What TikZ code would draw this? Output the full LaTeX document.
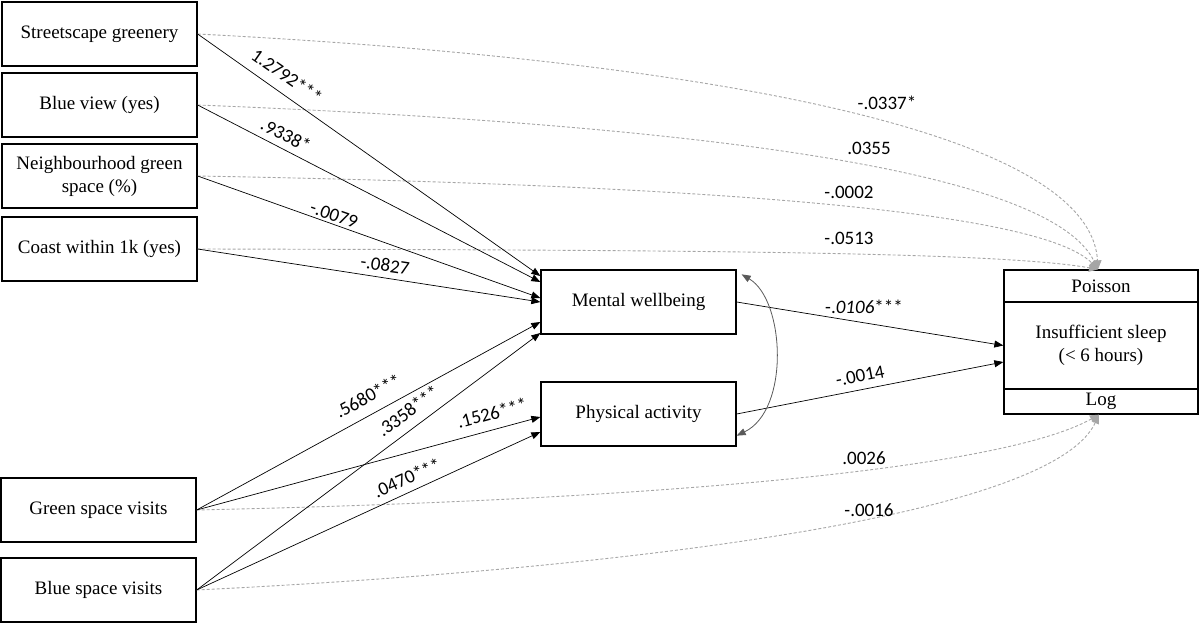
\documentclass[tikz,border=0pt]{standalone}
\usepackage{fontspec}
\setmainfont{Liberation Serif}
\newfontfamily\coeffont{Carlito}
\usetikzlibrary{arrows.meta}

\newlength{\du}
\setlength{\du}{1pt}
\definecolor{dialinecolor}{rgb}{0.000000, 0.000000, 0.000000}
\definecolor{dashcolor}{rgb}{0.650000, 0.650000, 0.650000}
\definecolor{covcolor}{rgb}{0.350000, 0.350000, 0.350000}

\tikzset{
  varbox/.style={draw=dialinecolor, line width=1.3\du, minimum width=195\du,
    minimum height=64\du, inner sep=0pt, align=center,
    font=\fontsize{19}{23}\selectfont},
  pathline/.style={draw=dialinecolor, line width=0.7\du,
    -{Triangle[length=9pt,width=7pt]}},
  directline/.style={draw=dashcolor, line width=0.9\du, dash pattern=on 3pt off 2pt,
    -{Triangle[length=9pt,width=8pt,fill=dashcolor]}},
  coef/.style={inner sep=1\du, font=\coeffont\fontsize{19}{22}\selectfont}
}

\begin{document}
\begin{tikzpicture}[x=1\du,y=-1\du]
\useasboundingbox (0,0) rectangle (1200,624);

% exposures
\node[varbox] (street) at (99.5,34) {Streetscape greenery};
\node[varbox] (blueview) at (99.5,105) {Blue view (yes)};
\node[varbox] (neighbour) at (99.5,176) {Neighbourhood green\\space (\%)};
\node[varbox] (coast) at (99.5,249) {Coast within 1k (yes)};
\node[varbox] (greenvisit) at (98.5,510) {Green space visits};
\node[varbox] (bluevisit) at (98.5,590) {Blue space visits};

% mediators
\node[varbox] (mental) at (638.5,302) {Mental wellbeing};
\node[varbox] (physical) at (638.5,414) {Physical activity};

% outcome
\node[varbox, minimum width=194\du, minimum height=32\du] (poisson) at (1101,286) {Poisson};
\node[varbox, minimum width=194\du, minimum height=87\du] (sleep) at (1101,345.5) {Insufficient sleep\\(< 6 hours)};
\node[varbox, minimum width=194\du, minimum height=25\du] (log) at (1101,401.5) {Log};

% direct effects
\draw[directline] (street.east) .. controls (700,60) and (1090,130) .. ([xshift=-3\du]poisson.north);
\draw[directline] (blueview.east) .. controls (700,125) and (1050,170) .. ([xshift=-3\du]poisson.north);
\draw[directline] (neighbour.east) .. controls (700,185) and (1040,210) .. ([xshift=-3\du]poisson.north);
\draw[directline] (coast.east) .. controls (700,250) and (1000,252) .. ([xshift=-3\du]poisson.north);
\draw[directline] (greenvisit.east) .. controls (650,500) and (1000,470) .. ([xshift=-2\du]log.south);
\draw[directline] (bluevisit.east) .. controls (600,570) and (1050,520) .. ([xshift=-2\du]log.south);

% paths to mediators
\draw[pathline] (street.east) -- ([yshift=26\du]mental.west);
\draw[pathline] (blueview.east) -- ([yshift=20\du]mental.west);
\draw[pathline] (neighbour.east) -- ([yshift=4\du]mental.west);
\draw[pathline] (coast.east) -- (mental.west);
\draw[pathline] (greenvisit.east) -- ([yshift=-20\du]mental.west);
\draw[pathline] (bluevisit.east) -- ([yshift=-31\du]mental.west);
\draw[pathline] (greenvisit.east) -- ([yshift=-3\du]physical.west);
\draw[pathline] (bluevisit.east) -- ([yshift=-18\du]physical.west);

% mediators to outcome
\draw[pathline] (mental.east) -- (sleep.west);
\draw[pathline] (physical.east) -- ([yshift=-16.5\du]sleep.west);

% covariance
\draw[draw=covcolor, line width=0.8\du,
  {Triangle[length=9pt,width=7pt,fill=covcolor]}-{Triangle[length=9pt,width=7pt,fill=covcolor]}]
  ([xshift=5\du,yshift=-5\du]mental.north east) .. controls (785,300) and (790,410) .. ([yshift=11\du]physical.south east);

% coefficients
\node[coef, rotate=-35] (c1) at (287,76) {1.2792***};
\node[coef, rotate=-27] (c2) at (286,135) {.9338*};
\node[coef, rotate=-19] (c3) at (334,215) {-.0079};
\node[coef, rotate=-8.6] (c4) at (385,265) {-.0827};
\node[coef, rotate=28.5] (c5) at (368,396) {.5680***};
\node[coef, rotate=36.6] (c6) at (408,411) {.3358***};
\node[coef, rotate=15] (c7) at (492,413) {.1526***};
\node[coef, rotate=24.5] (c8) at (407,478) {.0470***};
\node[coef] (c9) at (864,307) {-.\textit{0106}***};
\node[coef, rotate=11] (c10) at (860,376) {-.0014};
\node[coef] (c11) at (887,103) {-.0337*};
\node[coef] (c12) at (869,148) {.0355};
\node[coef] (c13) at (849,192) {-.0002};
\node[coef] (c14) at (849,238) {-.0513};
\node[coef] (c15) at (864,458) {.0026};
\node[coef] (c16) at (869,510) {-.0016};
\end{tikzpicture}
\end{document}
